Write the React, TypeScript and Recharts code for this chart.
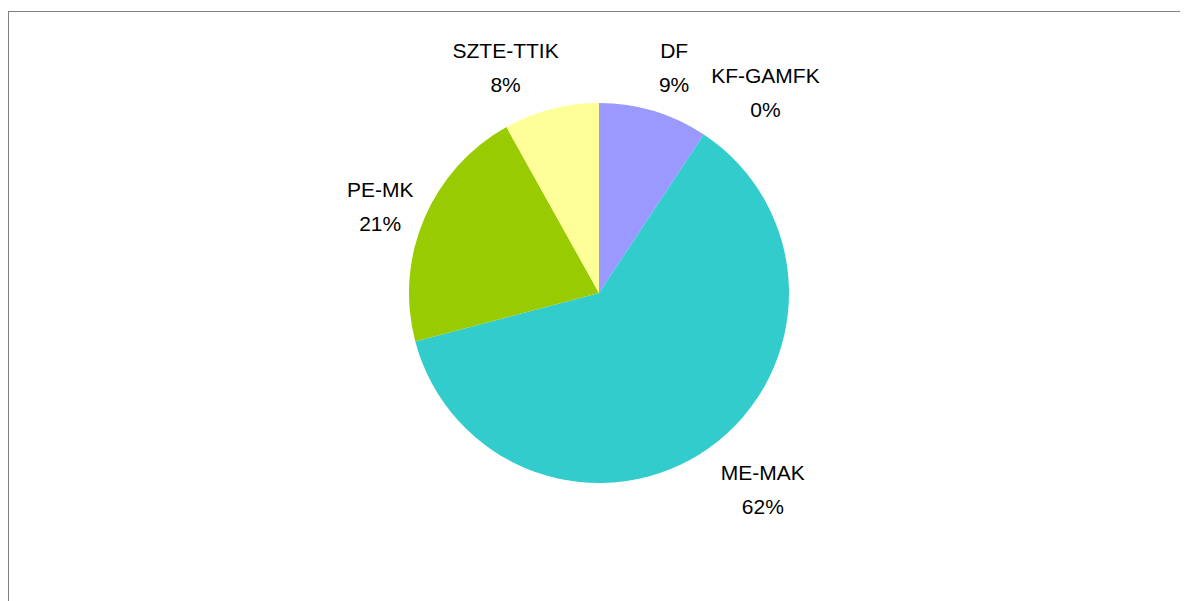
import React from "react";
import { PieChart, Pie, Cell } from "recharts";

const names = ["DF", "KF-GAMFK", "ME-MAK", "PE-MK", "SZTE-TTIK"];
const values = [9.3, 0, 61.6, 21.0, 8.1];
const percentLabels = ["9%", "0%", "62%", "21%", "8%"];
const colors = ["#9999FF", "#993366", "#33CCCC", "#99CC00", "#FFFF99"];

// label placement nudges (layout only)
const labelNudgeX = [6, 34, 24, 2, -33];
const labelNudgeY = [5, 0, 2, 8, 7];

const data = names.map((n, i) => ({ name: n, value: values[i], pct: percentLabels[i] }));

const RADIAN = Math.PI / 180;

const renderLabel = (props: any) => {
  const { cx, cy, midAngle, outerRadius, index } = props;
  const r = outerRadius + 50;
  const x = cx + r * Math.cos(-midAngle * RADIAN) + labelNudgeX[index];
  const y = cy + r * Math.sin(-midAngle * RADIAN) + labelNudgeY[index];
  return (
    <text
      x={x}
      y={y}
      textAnchor="middle"
      fontFamily="'Liberation Sans', Arial, sans-serif"
      fontSize={21}
      fill="#000"
    >
      <tspan x={x} dy={-10}>{names[index]}</tspan>
      <tspan x={x} dy={34}>{percentLabels[index]}</tspan>
    </text>
  );
};

export default function App() {
  return (
    <div
      style={{
        marginTop: 3,
        width: 1180,
        height: 590,
        borderLeft: "1px solid #808080",
        borderTop: "1px solid #808080",
        boxSizing: "border-box",
        overflow: "hidden",
      }}
    >
      <PieChart width={1179} height={589}>
        <Pie
          data={data}
          dataKey="value"
          nameKey="name"
          cx={585}
          cy={276}
          outerRadius={190}
          startAngle={90}
          endAngle={-270}
          stroke="none"
          isAnimationActive={false}
          label={renderLabel}
          labelLine={false}
        >
          {data.map((d, i) => (
            <Cell key={d.name} fill={colors[i]} />
          ))}
        </Pie>
      </PieChart>
    </div>
  );
}
